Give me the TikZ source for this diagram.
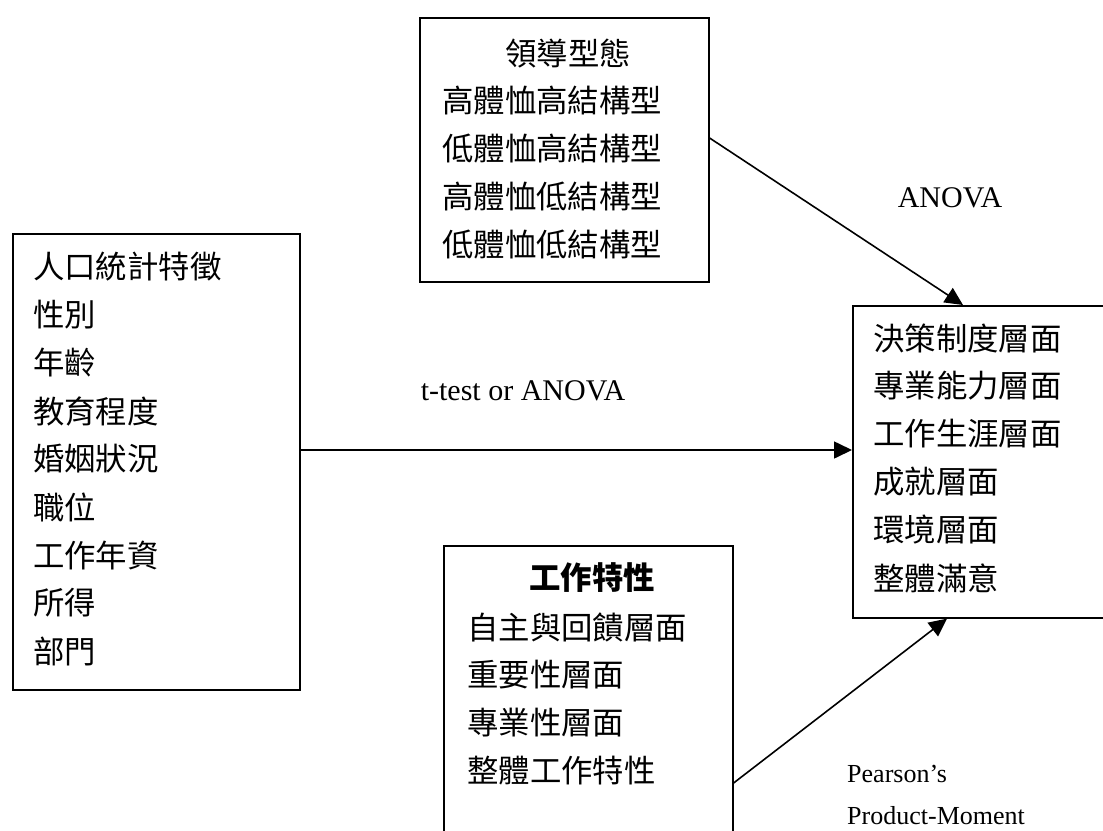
\documentclass[tikz,border=0pt]{standalone}
\usepackage{fontspec}
\setmainfont{Liberation Serif}
\newfontfamily\cjk{Noto Sans CJK TC}
\usetikzlibrary{arrows.meta}
\tikzset{
  box/.style={draw, line width=1.6pt, inner sep=0pt, anchor=north west},
  cjkline/.style={inner sep=0pt, anchor=west, font=\cjk\fontsize{31.4}{37}\selectfont},
  cjktitle/.style={inner sep=0pt, anchor=center, font=\cjk\fontsize{31.4}{37}\selectfont},
  lbl/.style={inner sep=0pt, font=\fontsize{30}{36}\selectfont},
  smalllbl/.style={inner sep=0pt, anchor=base west, font=\fontsize{26}{31}\selectfont},
  conn/.style={line width=1.6pt, -{Triangle[length=18pt,width=17pt]}}
}
\begin{document}
\begin{tikzpicture}[x=1pt,y=-1pt]
\useasboundingbox (0,0) rectangle (1103,830);
\clip (0,0) rectangle (1103,830);
\fill[white] (0,0) rectangle (1103,830);
% boxes
\node[box, minimum width=287pt, minimum height=456pt] (demo) at (12,233) {};
\node[box, minimum width=289pt, minimum height=264pt] (lead) at (419,17) {};
\node[box, minimum width=270pt, minimum height=312pt] (outc) at (852,305) {};
\node[box, minimum width=289pt, minimum height=320pt] (job) at (443,545) {};
% left box text
\foreach \t [count=\i] in {人口統計特徵,性別,年齡,教育程度,婚姻狀況,職位,工作年資,所得,部門}
  \node[cjkline] (d\i) at (33,{267+48*(\i-1)}) {\t};
% top box text
\node[cjktitle] (leadtitle) at (568,53) {領導型態};
\foreach \t [count=\i] in {高體恤高結構型,低體恤高結構型,高體恤低結構型,低體恤低結構型}
  \node[cjkline] (l\i) at (442,{101+48*(\i-1)}) {\t};
% right box text
\foreach \t [count=\i] in {決策制度層面,專業能力層面,工作生涯層面,成就層面,環境層面,整體滿意}
  \node[cjkline] (o\i) at (873,{338+48*(\i-1)}) {\t};
% bottom box text
\node[cjktitle, font=\cjk\bfseries\fontsize{31.4}{37}\selectfont] (jobtitle) at (592,578) {工作特性};
\foreach \t [count=\i] in {自主與回饋層面,重要性層面,專業性層面,整體工作特性}
  \node[cjkline] (j\i) at (467,{627+48*(\i-1)}) {\t};
% connectors
\draw[conn] (lead.east |- 0,138) -- (outc.north -| 963,0);
\draw[conn] (demo.east |- 0,450) -- (outc.west |- 0,450);
\draw[conn] (job.east |- 0,783) -- (outc.south -| 947,0);
% labels
\node[lbl, anchor=base] (anova1) at (950,207) {ANOVA};
\node[lbl, anchor=base] (ttest) at (523,400) {t-test or ANOVA};
\node[smalllbl] (pearson) at (847,782) {Pearson’s};
\node[smalllbl] (pm) at (847,824) {Product-Moment};
\end{tikzpicture}
\end{document}
